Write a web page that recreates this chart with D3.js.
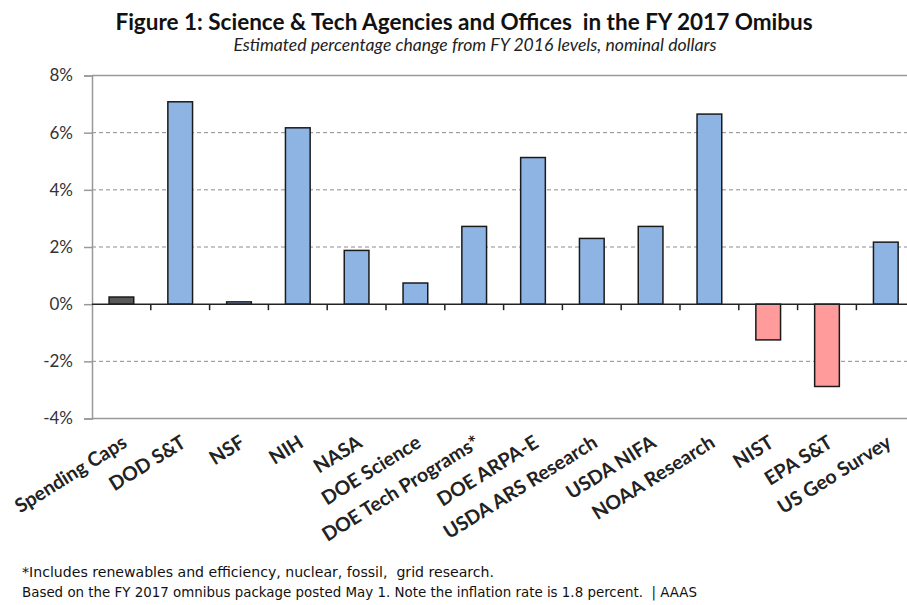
<!DOCTYPE html>
<html>
<head>
<meta charset="utf-8">
<script src="https://cdn.jsdelivr.net/npm/d3@7"></script>
<style>
  body { margin: 0; background: #fff; }
  svg { display: block; }
  text { white-space: pre; }
</style>
</head>
<body>
<svg id="chart" width="907" height="605"></svg>
<script>
// values (percent change, FY16 -> FY17)
const agencies = ["Spending Caps", "DOD S&T", "NSF", "NIH", "NASA", "DOE Science",
  "DOE Tech Programs*", "DOE ARPA-E", "USDA ARS Research", "USDA NIFA",
  "NOAA Research", "NIST", "EPA S&T", "US Geo Survey"];
const pctChange = [0.25, 7.08, 0.08, 6.17, 1.88, 0.74, 2.72, 5.13, 2.3, 2.72, 6.65, -1.25, -2.88, 2.17];
const yTicks = [-4, -2, 0, 2, 4, 6, 8];
const footnotes = [
  "*Includes renewables and efficiency, nuclear, fossil,  grid research.",
  "Based on the FY 2017 omnibus package posted May 1. Note the inflation rate is 1.8 percent.  | AAAS"
];
const footWidths = [472, 675];

const svg = d3.select("#chart");

const margin = { top: 75.5, left: 92 },
      band = 58.8,
      plotH = 343;

const x = d3.scaleBand()
  .domain(agencies)
  .range([margin.left, margin.left + band * agencies.length])
  .paddingInner(0.58)
  .paddingOuter(0.29);

const y = d3.scaleLinear().domain([-4, 8]).range([margin.top + plotH, margin.top]);

// title
svg.append("text")
  .attr("x", 464).attr("y", 30)
  .attr("text-anchor", "middle")
  .style("font-family", "Lato, sans-serif")
  .style("font-weight", "bold")
  .style("font-size", "22.5px")
  .attr("fill", "#111")
  .text("Figure 1: Science & Tech Agencies and Offices  in the FY 2017 Omibus");

svg.append("text")
  .attr("x", 475).attr("y", 51)
  .attr("text-anchor", "middle")
  .style("font-family", "Lato, sans-serif")
  .style("font-style", "italic")
  .style("font-size", "17.6px")
  .attr("fill", "#222")
  .text("Estimated percentage change from FY 2016 levels, nominal dollars");

// gridlines
const xEnd = margin.left + band * agencies.length;
svg.append("g")
  .selectAll("line")
  .data(yTicks.filter(d => d !== 0))
  .join("line")
  .attr("x1", margin.left).attr("x2", xEnd)
  .attr("y1", d => y(d)).attr("y2", d => y(d))
  .attr("stroke", d => (d === 8 || d === -4) ? "#999" : "#8c8c8c")
  .attr("stroke-width", d => (d === 8 || d === -4) ? 1.5 : 1)
  .attr("stroke-dasharray", d => (d === 8 || d === -4) ? null : "4,3");

// y axis
const yAxis = svg.append("g")
  .attr("transform", `translate(${margin.left},0)`)
  .call(d3.axisLeft(y).tickValues(yTicks).tickFormat(d => d + "%").tickSize(8).tickPadding(11));
yAxis.select(".domain").attr("stroke", "#999").attr("stroke-width", 1.5);
yAxis.selectAll(".tick line").attr("stroke", "#999").attr("stroke-width", 1.5);
yAxis.selectAll(".tick text")
  .style("font-family", "Lato, sans-serif")
  .style("font-size", "17px")
  .attr("fill", "#333");

// bars
svg.append("g")
  .selectAll("rect")
  .data(agencies.map((a, i) => ({ name: a, value: pctChange[i], i })))
  .join("rect")
  .attr("x", d => x(d.name))
  .attr("width", x.bandwidth())
  .attr("y", d => y(Math.max(0, d.value)))
  .attr("height", d => Math.abs(y(d.value) - y(0)))
  .attr("fill", d => d.i === 0 ? "#595959" : (d.value < 0 ? "#ff9b9b" : "#8db4e2"))
  .attr("stroke", "#1a1a1a")
  .attr("stroke-width", 1.5);

// zero (category) axis with ticks between categories
const zero = svg.append("g").attr("transform", `translate(0,${y(0)})`);
zero.append("line")
  .attr("x1", margin.left).attr("x2", xEnd)
  .attr("stroke", "#222").attr("stroke-width", 1.5);
zero.selectAll("line.tk")
  .data(d3.range(1, agencies.length + 1))
  .join("line")
  .attr("class", "tk")
  .attr("x1", i => margin.left + i * band).attr("x2", i => margin.left + i * band)
  .attr("y1", 0).attr("y2", 6)
  .attr("stroke", "#222").attr("stroke-width", 1.5);

// rotated category labels
svg.append("g")
  .selectAll("text")
  .data(agencies)
  .join("text")
  .attr("transform", d => `translate(${x(d) + x.bandwidth() / 2 + 7},446) rotate(-32)`)
  .attr("text-anchor", "end")
  .style("font-family", "Lato, sans-serif")
  .style("font-weight", "bold")
  .style("font-size", "19.5px")
  .attr("fill", "#222")
  .text(d => d);

// footnotes
svg.append("g")
  .selectAll("text")
  .data(footnotes)
  .join("text")
  .attr("x", 22)
  .attr("y", (d, i) => 577 + i * 20)
  .attr("textLength", (d, i) => footWidths[i])
  .attr("lengthAdjust", "spacingAndGlyphs")
  .style("font-family", "DejaVu Sans, sans-serif")
  .style("font-size", "13.5px")
  .attr("fill", "#111")
  .text(d => d);
</script>
</body>
</html>
